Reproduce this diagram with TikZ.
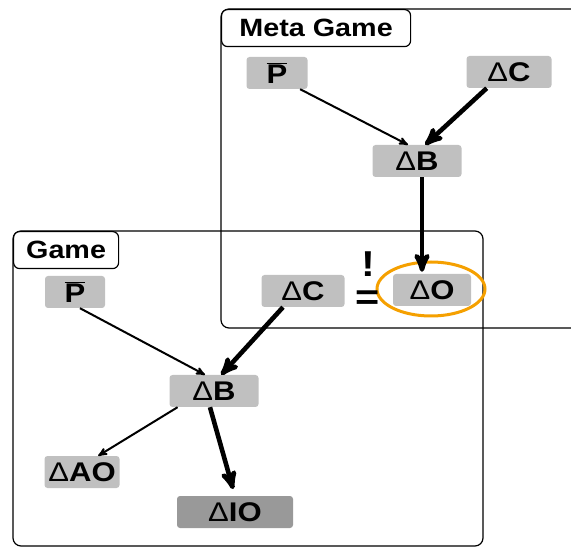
\documentclass[tikz,border=0pt]{standalone}
\usepackage{fontspec}
\setmainfont{Liberation Sans}[FakeStretch=1.15]
\usetikzlibrary{arrows,positioning}

\definecolor{varGray}{HTML}{C0C0C0}
\definecolor{outGray}{HTML}{999999}
\definecolor{ringOrange}{HTML}{F5A000}
\newcommand{\dl}{{\mdseries Δ}}
\newcommand{\pbar}{$\overline{\hbox{P}}$}

\begin{document}
\begin{tikzpicture}[>=stealth',x=1pt,y=-1pt,
    var/.style={fill=varGray,rounded corners=3pt,minimum height=32pt,
      inner sep=0pt,font=\fontsize{27}{29}\selectfont\bfseries},
    frame/.style={line width=1.2pt,rounded corners=8pt},
    tag/.style={draw,line width=1.2pt,rounded corners=6pt,minimum height=37pt,
      inner sep=0pt,anchor=north west,font=\fontsize{25}{27}\selectfont\bfseries},
    thinarc/.style={->,line width=2pt},
    thickarc/.style={->,line width=4.6pt}]

\useasboundingbox (0,0) rectangle (571,548);

% frames
\draw[frame] (590,9) -- (221,9) -- (221,328) -- (590,328);
\draw[frame] (13,231) rectangle (483,546);
\node[tag,fill=white,minimum width=189pt] (metaTag) at (221,9) {Meta Game};
\node[tag,fill=white,minimum width=105pt] (gameTag) at (13,231) {Game};

% meta game
\node[var,minimum width=61pt] (mP) at (277,73) {\pbar};
\node[var,minimum width=85pt] (mC) at (509,72) {\dl C};
\node[var,minimum width=89pt] (mB) at (417,161) {\dl B};
\node[var,minimum width=78pt] (dO) at (432,290) {\dl O};
\draw[ringOrange,line width=3pt] (431,289) ellipse (54 and 27);

% game
\node[var,minimum width=60pt] (gP) at (75,292) {\pbar};
\node[var,minimum width=83pt] (gC) at (303,291) {\dl C};
\node[var,minimum width=89pt] (gB) at (214,391) {\dl B};
\node[var,minimum width=75pt] (dAO) at (82,472) {\dl AO};
\node[var,fill=outGray,minimum width=116pt] (dIO) at (235,512) {\dl IO};

% must equal
\node[font=\fontsize{36}{33}\selectfont\bfseries,inner sep=0pt,align=center,
  anchor=north] (mustEq) at (368,252) {!\\=};

% arcs
\draw[thinarc] (mP.-35) -- (mB.119);
\draw[thickarc] (mC.-144) -- (mB.63);
\draw[thickarc,shorten >=2pt] ([xshift=5pt]mB.south) -- ([xshift=5pt]mB.south |- dO.north);
\draw[thinarc] (gP.-73) -- (gB.119);
\draw[thickarc] (gC.-141) -- (gB.66);
\draw[thinarc] (gB.-156) -- (dAO.45);
\draw[thickarc,shorten >=7pt] (gB.-104) -- (dIO.north);

\end{tikzpicture}
\end{document}
